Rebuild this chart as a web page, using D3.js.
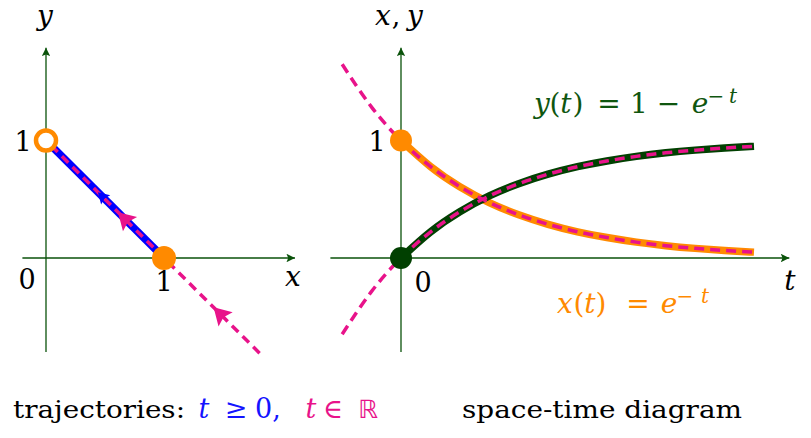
<!DOCTYPE html>
<html><head><meta charset="utf-8">
<script src="https://cdn.jsdelivr.net/npm/d3@7"></script>
<style>html,body{margin:0;padding:0;background:#fff;} svg{display:block;}</style>
</head><body>
<script>
// ---------- data ----------
// left panel: phase-plane trajectory on the line x + y = 1
const trajPositive = [[1, 0], [0, 1]];            // t >= 0  (blue)
const trajAll = [[1.81, -0.81], [0, 1]];          // t in R  (magenta, dashed)
const arrowsPositive = [[0.44, 0.56]];            // blue arrow tip positions
const arrowsAll = [[0.61, 0.39], [1.42, -0.42]];  // magenta arrow tip positions
const openPoint = [0, 1];
const startPoint = [1, 0];

// right panel: space-time diagram samples
const tValues = [-0.5, -0.25, 0, 0.25, 0.5, 0.75, 1, 1.25, 1.5, 1.75, 2, 2.25, 2.5, 2.75, 3];
const xValues = [1.649, 1.284, 1, 0.779, 0.607, 0.472, 0.368, 0.287, 0.223, 0.174, 0.135, 0.105, 0.082, 0.064, 0.050];
const yValues = [-0.649, -0.284, 0, 0.221, 0.393, 0.528, 0.632, 0.713, 0.777, 0.826, 0.865, 0.895, 0.918, 0.936, 0.950];

const leftTickLabels = ["0", "1", "1"];
const rightTickLabels = ["0", "1"];

// ---------- styles ----------
const W = 811, H = 438;
const C = {
  axis: "#0a520a", green: "#014001", greenText: "#0f560f",
  orange: "#ff8a00", magenta: "#e8138a", blue: "#0000ff", blueText: "#1414ff"
};
const MATH = "'DejaVu Serif', 'Liberation Serif', serif";
const TEXT = "'DejaVu Serif', 'Liberation Serif', serif";

const svg = d3.select("body").append("svg").attr("width", W).attr("height", H);
const defs = svg.append("defs");
defs.append("marker").attr("id", "ax").attr("viewBox", "0 0 10 10")
  .attr("refX", 10).attr("refY", 5).attr("markerWidth", 10).attr("markerHeight", 8.5)
  .attr("markerUnits", "userSpaceOnUse").attr("orient", "auto")
  .append("path").attr("d", "M0,0 L10,5 L0,10 L2,5 Z").attr("fill", C.axis);

// ---------- scales ----------
const yS = d3.scaleLinear().domain([0, 1]).range([258, 140.5]);
const xL = d3.scaleLinear().domain([0, 1]).range([46, 164]);
const tS = d3.scaleLinear().domain([0, 3]).range([401, 754]);

const txt = (g, x, y, s, o = {}) => g.append("text").attr("x", x).attr("y", y).text(s)
  .attr("font-family", o.f || MATH).attr("font-size", o.size || 27)
  .attr("font-style", o.it ? "italic" : "normal").attr("fill", o.c || "#000")
  .attr("text-anchor", o.a || "middle");

// ---------- left panel ----------
const L = svg.append("g");
L.append("line").attr("x1", xL(-0.2)).attr("x2", xL(2.11)).attr("y1", yS(0)).attr("y2", yS(0))
  .attr("stroke", C.axis).attr("stroke-width", 1.3).attr("marker-end", "url(#ax)");
L.append("line").attr("x1", xL(0)).attr("x2", xL(0)).attr("y1", yS(-0.8)).attr("y2", yS(1.79))
  .attr("stroke", C.axis).attr("stroke-width", 1.3).attr("marker-end", "url(#ax)");

const lineL = d3.line().x(d => xL(d[0])).y(d => yS(d[1]));
L.append("path").attr("d", lineL(trajPositive)).attr("fill", "none")
  .attr("stroke", C.blue).attr("stroke-width", 7.5);
L.append("path").attr("d", lineL(trajAll)).attr("fill", "none")
  .attr("stroke", C.magenta).attr("stroke-width", 3.5).attr("stroke-dasharray", "9,6");

// direction of motion (toward (0,1)) in screen space
const dirAngle = Math.atan2(yS(1) - yS(0), xL(0) - xL(1)) * 180 / Math.PI;
L.selectAll(".ab").data(arrowsPositive).join("path")
  .attr("d", "M0,0 L-11,-6.5 L-9,0 L-11,6.5 Z").attr("fill", C.blue)
  .attr("transform", d => `translate(${xL(d[0])},${yS(d[1])}) rotate(${dirAngle})`);
L.selectAll(".am").data(arrowsAll).join("path")
  .attr("d", "M0,0 L-17,-10 L-14,0 L-17,10 Z").attr("fill", C.magenta)
  .attr("transform", d => `translate(${xL(d[0])},${yS(d[1])}) rotate(${dirAngle})`);

L.append("circle").attr("cx", xL(openPoint[0])).attr("cy", yS(openPoint[1])).attr("r", 10)
  .attr("fill", "#fff").attr("stroke", C.orange).attr("stroke-width", 4.5);
L.append("circle").attr("cx", xL(startPoint[0])).attr("cy", yS(startPoint[1])).attr("r", 12)
  .attr("fill", C.orange);

txt(L, xL(0) - 19, 289, leftTickLabels[0]);
txt(L, xL(1), 291, leftTickLabels[1]);
txt(L, xL(0) - 23, 151, leftTickLabels[2]);
txt(L, 293, 286, "x", { it: true, size: 28 });
txt(L, 45, 25, "y", { it: true, size: 28 });

// ---------- right panel ----------
const R = svg.append("g");
R.append("line").attr("x1", tS(-0.6)).attr("x2", tS(3.3)).attr("y1", yS(0)).attr("y2", yS(0))
  .attr("stroke", C.axis).attr("stroke-width", 1.3).attr("marker-end", "url(#ax)");
R.append("line").attr("x1", tS(0)).attr("x2", tS(0)).attr("y1", yS(-0.8)).attr("y2", yS(1.79))
  .attr("stroke", C.axis).attr("stroke-width", 1.3).attr("marker-end", "url(#ax)");

const pts = (vals) => tValues.map((t, i) => [t, vals[i]]);
const lineR = d3.line().x(d => tS(d[0])).y(d => yS(d[1])).curve(d3.curveNatural);
const pos = d => d[0] >= 0;
R.append("path").attr("d", lineR(pts(xValues).filter(pos))).attr("fill", "none")
  .attr("stroke", C.orange).attr("stroke-width", 7.5);
R.append("path").attr("d", lineR(pts(yValues).filter(pos))).attr("fill", "none")
  .attr("stroke", C.green).attr("stroke-width", 7.5);
[xValues, yValues].forEach(v => {
  R.append("path").attr("d", lineR(pts(v))).attr("fill", "none")
    .attr("stroke", C.magenta).attr("stroke-width", 3.5).attr("stroke-dasharray", "10,6");
});
R.append("circle").attr("cx", tS(0)).attr("cy", yS(1)).attr("r", 11).attr("fill", C.orange);
R.append("circle").attr("cx", tS(0)).attr("cy", yS(0)).attr("r", 11).attr("fill", C.green);

txt(R, tS(0) + 22, 292, rightTickLabels[0]);
txt(R, tS(0) - 24, 151, rightTickLabels[1]);
txt(R, 790, 290, "t", { it: true, size: 28 });
txt(R, 383, 25, "x", { it: true, size: 28 });
txt(R, 396, 25, ",", { size: 27 });
txt(R, 415, 25, "y", { it: true, size: 28 });

// y(t) = 1 − e^{−t}
const g1 = C.greenText;
txt(R, 542, 113, "y", { it: true, c: g1, size: 28 });
txt(R, 555, 113, "(", { c: g1, size: 28 });
txt(R, 566, 113, "t", { it: true, c: g1, size: 28 });
txt(R, 578, 113, ")", { c: g1, size: 28 });
txt(R, 609, 113, "=", { c: g1, size: 28 });
txt(R, 639, 113, "1", { c: g1, size: 28 });
txt(R, 668.5, 113, "−", { c: g1, size: 28 });
txt(R, 700, 113, "e", { it: true, c: g1, size: 28 });
txt(R, 716, 103, "−", { c: g1, size: 20 });
txt(R, 733, 103, "t", { it: true, c: g1, size: 20 });

// x(t) = e^{−t}
const o1 = C.orange;
txt(R, 565, 313, "x", { it: true, c: o1, size: 28 });
txt(R, 579, 313, "(", { c: o1, size: 28 });
txt(R, 590, 313, "t", { it: true, c: o1, size: 28 });
txt(R, 601, 313, ")", { c: o1, size: 28 });
txt(R, 638, 313, "=", { c: o1, size: 28 });
txt(R, 669, 313, "e", { it: true, c: o1, size: 28 });
txt(R, 685, 303, "−", { c: o1, size: 20 });
txt(R, 705, 303, "t", { it: true, c: o1, size: 20 });

// ---------- captions ----------
const cap = svg.append("g");
const ct = (x, s, o = {}) => {
  const t = txt(cap, x, 418, s, Object.assign({ f: TEXT, size: 24 }, o));
  if (o.len) t.attr("textLength", o.len).attr("lengthAdjust", "spacingAndGlyphs");
  return t;
};
ct(13, "trajectories:", { len: 172, a: "start" });
ct(204, "t", { it: true, c: C.blueText, size: 27 });
ct(236, "≥", { c: C.blueText, size: 27 });
ct(268, "0,", { c: C.blueText, size: 27 });
ct(311, "t", { it: true, c: C.magenta, size: 27 });
ct(333, "∈", { c: C.magenta, size: 27 });
ct(368, "ℝ", { c: C.magenta, f: "'DejaVu Sans', sans-serif", size: 25 });
ct(462, "space-time diagram", { len: 280, a: "start" });
</script>
</body></html>
